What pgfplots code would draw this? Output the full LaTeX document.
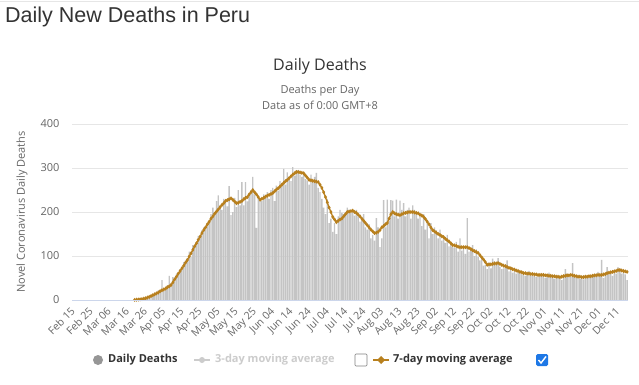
\documentclass[border=0pt]{standalone}
\usepackage{fontspec}
\setmainfont{Open Sans}
\newfontfamily\titlefont{Liberation Sans}
\usepackage{pgfplots}
\usepackage{pgfplotstable}
\pgfplotsset{compat=1.18}
\definecolor{barc}{RGB}{196,196,196}
\definecolor{avgc}{RGB}{184,128,30}
\definecolor{txt}{RGB}{51,51,51}
\definecolor{lab}{RGB}{102,102,102}
\definecolor{gridc}{RGB}{230,230,230}
\definecolor{axc}{RGB}{204,214,235}
\definecolor{hid}{RGB}{204,204,204}
\definecolor{chk}{RGB}{30,120,230}
\definecolor{legc}{RGB}{150,150,150}

\pgfplotstableread{
day d avg
34 1 0.3
35 1 0.6
36 2 1
37 2 1.4
38 2 2
39 4 3
40 5 4
41 6 5.5
42 8 7
43 7 9
44 12 11
45 16 13
46 14 15
47 22 17
48 18 20
49 45 22
50 20 24
51 28 26
52 33 29
53 55 31
54 38 34
55 52 40
56 45 47
57 60 53
58 62 60
59 70 66
60 68 72
61 86 78
62 90 85
63 95 91
64 110 99
65 98 106
66 125 114
67 120 122
68 130 129
69 146 137
70 140 144
71 158 152
72 165 159
73 162 165
74 175 172
75 180 178
76 195 185
77 210 190
78 200 196
79 225 201
80 238 206
81 215 211
82 205 216
83 230 220
84 226 225
85 213 227
86 259 229
87 193 231
88 200 228
89 232 224
90 211 220
91 250 221
92 215 223
93 268 225
94 215 229
95 268 232
96 224 234
97 238 240
98 250 245
99 280 250
100 240 245
101 164 240
102 236 234
103 226 228
104 225 230
105 240 232
106 232 235
107 245 237
108 230 239
109 250 241
110 255 243
111 225 247
112 260 251
113 248 254
114 270 258
115 265 262
116 298 266
117 262 270
118 290 273
119 275 277
120 270 281
121 302 285
122 282 288
123 295 291
124 295 291
125 285 290
126 280 289
127 284 288
128 275 283
129 272 278
130 262 273
131 285 272
132 268 271
133 280 270
134 289 269
135 255 268
136 245 262
137 230 255
138 210 245
139 195 234
140 230 222
141 175 210
142 185 200
143 155 189
144 175 183
145 150 177
146 190 180
147 205 183
148 198 185
149 195 190
150 200 195
151 210 200
152 205 201
153 198 202
154 202 203
155 192 200
156 205 198
157 190 194
158 178 190
159 185 185
160 195 180
161 165 175
162 160 170
163 172 165
164 140 160
165 148 156
166 135 152
167 186 153
168 165 155
169 120 159
170 140 165
171 227 168
172 165 172
173 228 175
174 180 185
175 227 195
176 226 200
177 190 197
178 228 195
179 185 194
180 226 193
181 205 195
182 220 197
183 190 198
184 205 199
185 210 200
186 185 200
187 215 200
188 205 199
189 200 198
190 185 197
191 192 194
192 168 192
193 195 189
194 160 184
195 182 178
196 140 172
197 175 165
198 150 159
199 165 156
200 158 153
201 140 150
202 160 148
203 135 145
204 142 143
205 130 139
206 148 136
207 122 133
208 128 129
209 120 125
210 118 124
211 132 123
212 110 121
213 140 120
214 112 120
215 122 120
216 105 120
217 186 120
218 110 118
219 118 116
220 125 113
221 100 111
222 115 109
223 98 107
224 90 102
225 96 97
226 78 92
227 80 86
228 70 80
229 85 81
230 72 81
231 94 82
232 88 83
233 80 83
234 95 84
235 76 82
236 70 80
237 72 78
238 80 77
239 90 75
240 65 73
241 70 72
242 62 70
243 72 69
244 60 67
245 68 66
246 63 64
247 58 63
248 62 61
249 55 61
250 58 60
251 66 60
252 56 59
253 54 59
254 60 58
255 52 58
256 58 57
257 54 57
258 60 57
259 56 57
260 50 56
261 58 56
262 62 55
263 52 55
264 55 54
265 48 54
266 56 53
267 50 53
268 54 52
269 45 53
270 56 54
271 70 55
272 60 56
273 55 56
274 52 57
275 84 56
276 52 55
277 50 54
278 55 53
279 48 53
280 52 52
281 47 52
282 56 53
283 50 53
284 55 54
285 52 54
286 58 55
287 54 56
288 60 56
289 64 57
290 55 57
291 91 57
292 50 58
293 60 59
294 75 61
295 58 62
296 62 63
297 55 64
298 68 65
299 60 66
300 75 68
301 72 68
302 60 67
303 65 66
304 58 65
305 45 64
}\data

\begin{document}
\begin{tikzpicture}
\path[use as bounding box, fill=white] (0,0) rectangle (639pt,-385pt);
\draw[gridc, line width=1pt] (0,-1.5pt) -- (639pt,-1.5pt);
\node[anchor=base west, font=\titlefont\fontsize{21.5}{24}\selectfont, text=txt, inner sep=0] at (5pt,-22.5pt) {Daily New Deaths in Peru};
\node[font=\fontsize{16}{19}\selectfont, text=txt] at (320pt,-66pt) {Daily Deaths};
\node[font=\fontsize{11}{13}\selectfont, text=lab] at (320pt,-91pt) {Deaths per Day};
\node[font=\fontsize{11}{13}\selectfont, text=lab] at (320pt,-105pt) {Data as of 0:00 GMT+8};
\node[font=\fontsize{11}{13}\selectfont, text=lab, rotate=90] at (22pt,-212pt) {Novel Coronavirus Daily Deaths};
\begin{axis}[
  at={(72pt,-300pt)}, anchor=south west,
  scale only axis, width=556pt, height=176pt,
  xmin=-0.5, xmax=305.5, ymin=0, ymax=400,
  axis line style={draw=none},
  major tick length=0pt,
  ytick={0,100,200,300,400},
  ymajorgrids, grid style={gridc, line width=0.8pt},
  /pgf/number format/assume math mode=true,
  yticklabel style={font=\fontsize{11}{13}\selectfont, text=lab, xshift=-9pt},
  xtick={0,10,...,300},
  xticklabels={Feb 15,Feb 25,Mar 06,Mar 16,Mar 26,Apr 05,Apr 15,Apr 25,May 05,May 15,May 25,Jun 04,Jun 14,Jun 24,Jul 04,Jul 14,Jul 24,Aug 03,Aug 13,Aug 23,Sep 02,Sep 12,Sep 22,Oct 02,Oct 12,Oct 22,Nov 01,Nov 11,Nov 21,Dec 01,Dec 11},
  xticklabel style={font=\fontsize{10.5}{12}\selectfont, text=lab, xshift=-3pt, yshift=-5pt, rotate=45, anchor=north east, inner sep=1pt},
  clip=false,
]
\addplot[ybar, bar width=0.75, fill=barc, draw=none] table[x=day, y=d] {\data};
\addplot[avgc, line width=1.3pt, mark=diamond*, mark size=1pt, mark options={solid, fill=avgc}] table[x=day, y=avg] {\data};
\end{axis}
\draw[axc, line width=0.8pt] (72pt,-300pt) -- (628pt,-300pt);
% legend
\fill[legc] (98pt,-360pt) circle (5pt);
\node[anchor=west, font=\bfseries\fontsize{11}{13}\selectfont, text=txt, inner sep=0] at (108pt,-360pt) {Daily Deaths};
\draw[hid, line width=1.5pt] (194pt,-360pt) -- (210pt,-360pt);
\fill[hid] (202pt,-360pt) circle (3pt);
\node[anchor=west, font=\bfseries\fontsize{11}{13}\selectfont, text=hid, inner sep=0] at (215pt,-360pt) {3-day moving average};
\draw[gray, line width=0.6pt, rounded corners=1pt] (355pt,-354pt) rectangle (367pt,-366pt);
\draw[avgc, line width=1.5pt] (373pt,-360pt) -- (389pt,-360pt);
\fill[avgc] (381pt,-356pt) -- (385pt,-360pt) -- (381pt,-364pt) -- (377pt,-360pt) -- cycle;
\node[anchor=west, font=\bfseries\fontsize{11}{13}\selectfont, text=txt, inner sep=0] at (393pt,-360pt) {7-day moving average};
\fill[chk, rounded corners=1.5pt] (536pt,-354pt) rectangle (548pt,-366pt);
\draw[white, line width=1.4pt] (538.5pt,-360pt) -- (541pt,-363pt) -- (546pt,-356.5pt);
\end{tikzpicture}
\end{document}
